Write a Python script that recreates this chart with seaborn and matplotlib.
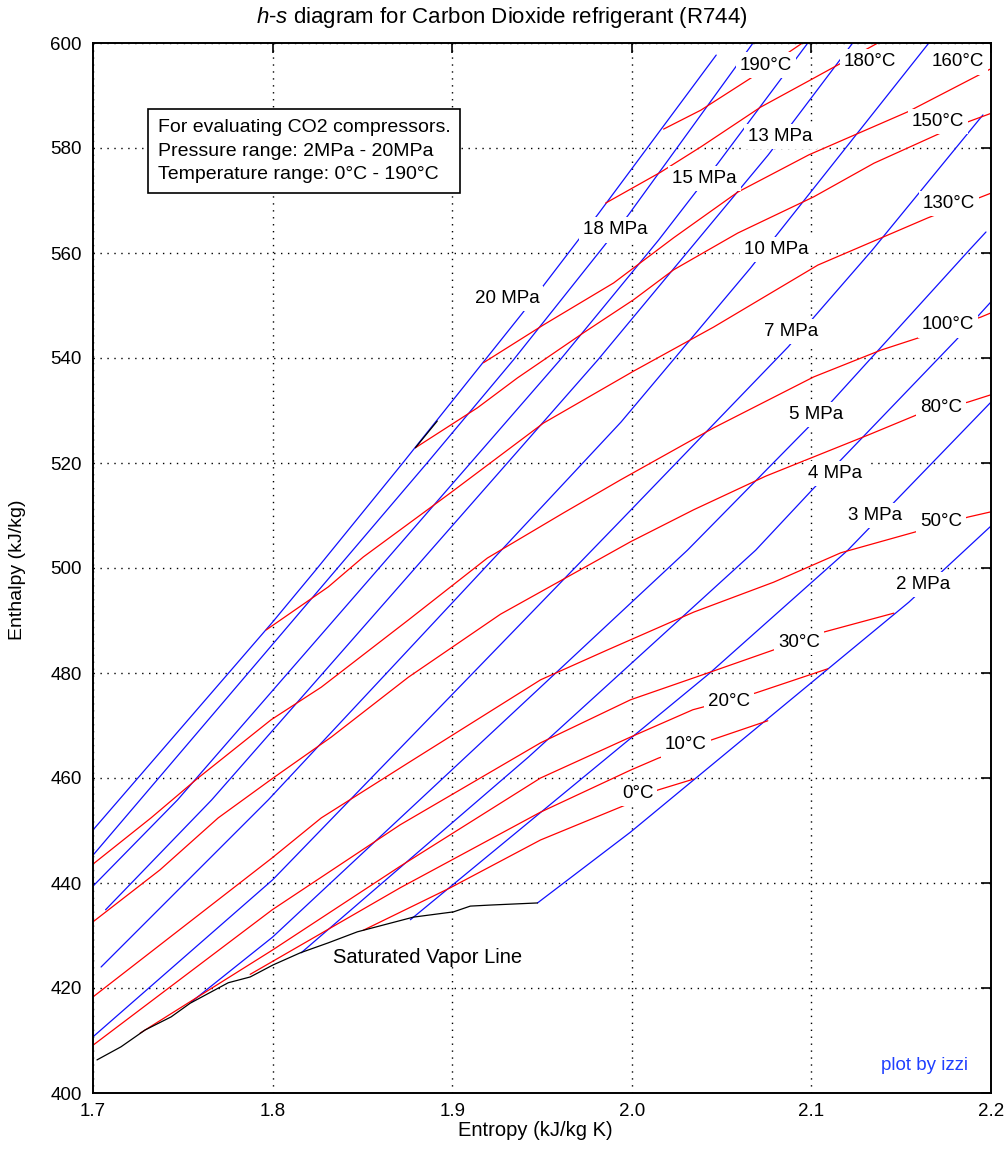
import matplotlib
matplotlib.use("Agg")
import matplotlib.pyplot as plt
import seaborn as sns

# ---------------- data (entropy s in kJ/kg K, enthalpy h in kJ/kg) ----------------
entropy_ticks = [1.7, 1.8, 1.9, 2.0, 2.1, 2.2]
entropy_tick_labels = ["1.7", "1.8", "1.9", "2.0", "2.1", "2.2"]
enthalpy_ticks = [400, 420, 440, 460, 480, 500, 520, 540, 560, 580, 600]

# saturated vapour line
sat_s = [1.7022, 1.7156, 1.729, 1.7435, 1.7541, 1.7753, 1.7875, 1.8003, 1.8154,
         1.831, 1.8472, 1.8784, 1.9007, 1.9101, 1.9213, 1.9475]
sat_h = [406.3, 408.8, 412.0, 414.5, 417.1, 421.0, 422.1, 424.4, 426.7,
         428.6, 430.7, 433.5, 434.5, 435.6, 435.8, 436.2]

# small black piece lying on the 20 MPa isobar
blk_s = [1.8795, 1.8917]
blk_h = [522.9, 528.0]

# isobars
p20_s = [1.700, 1.800, 1.824, 1.872, 1.939, 1.981, 2.047]
p20_h = [450.1, 489.7, 499.6, 519.8, 548.5, 567.3, 597.7]
p18_s = [1.700, 1.886, 1.934, 1.984, 1.998, 2.0675]
p18_h = [445.3, 520.0, 539.6, 561.1, 567.2, 600.0]
p15_s = [1.700, 1.747, 1.960, 2.015, 2.048, 2.098]
p15_h = [439.4, 455.8, 539.6, 562.5, 577.1, 600.0]
p13_s = [1.707, 1.766, 1.981, 2.076, 2.123]
p13_h = [434.9, 455.8, 539.6, 578.7, 600.0]
p10_s = [1.7045, 1.7975, 1.994, 2.066, 2.1654]
p10_h = [424.0, 455.8, 527.8, 557.1, 600.0]
p7_s = [1.700, 1.800, 1.994, 2.087, 2.134, 2.1955]
p7_h = [410.7, 440.6, 509.1, 542.1, 560.6, 586.3]
p5_s = [1.7546, 1.800, 2.031, 2.098, 2.188, 2.1972]
p5_h = [417.3, 429.7, 503.4, 526.7, 560.6, 564.0]
p4_s = [1.8159, 1.9425, 2.069, 2.1013, 2.1805, 2.2]
p4_h = [426.7, 464.0, 503.4, 515.2, 543.4, 550.7]
p3_s = [1.8767, 2.0428, 2.1203, 2.2]
p3_h = [433.0, 479.8, 503.4, 531.6]
p2_s = [1.9475, 1.9993, 2.1058, 2.1543, 2.2]
p2_h = [436.2, 449.7, 479.8, 493.5, 508.0]

# isotherms
t190_s = [2.0177, 2.0384, 2.0662, 2.095]
t190_h = [583.6, 587.2, 593.3, 600.0]
t180_s = [1.9854, 2.0161, 2.0384, 2.0718, 2.0997, 2.137]
t180_h = [569.5, 575.4, 580.2, 587.8, 593.0, 600.0]
t160_s = [1.9174, 1.9508, 1.9899, 2.0233, 2.059, 2.0986, 2.1537, 2.2]
t160_h = [539.1, 546.3, 554.3, 562.9, 571.6, 578.7, 586.9, 595.1]
t150_s = [1.8795, 1.914, 1.9363, 1.9731, 2.001, 2.0233, 2.059, 2.1013, 2.1348, 2.1794, 2.2]
t150_h = [522.9, 530.5, 536.2, 544.8, 551.1, 556.8, 563.8, 570.7, 577.1, 584.0, 586.6]
t130_s = [1.7964, 1.831, 1.8505, 1.899, 1.9508, 2.001, 2.0456, 2.1036, 2.1649, 2.2]
t130_h = [488.2, 496.4, 502.1, 514.3, 527.6, 537.5, 545.9, 557.7, 566.7, 571.4]
t100_s = [1.7, 1.7323, 1.7585, 1.7992, 1.8271, 1.8756, 1.9196, 1.962, 1.9938,
          2.0456, 2.1013, 2.1387, 2.1593, 2.1944, 2.2]
t100_h = [443.6, 452.4, 460.0, 471.1, 477.3, 490.1, 501.9, 510.5, 516.8,
          526.7, 536.4, 541.5, 543.8, 547.8, 548.6]
t80_s = [1.7, 1.7373, 1.7697, 1.8003, 1.8327, 1.8756, 1.9269, 1.9731, 1.9993,
         2.0345, 2.0746, 2.1314, 2.1582, 2.1872, 2.2]
t80_h = [432.6, 442.5, 452.4, 460.0, 467.8, 479.2, 491.2, 500.0, 505.0,
         511.1, 517.5, 525.3, 529.1, 531.6, 533.0]
t50_s = [1.7, 1.7998, 1.8271, 1.8756, 1.9492, 1.9865, 2.0345, 2.079, 2.1164, 2.1582, 2.1872, 2.2]
t50_h = [418.3, 444.8, 452.4, 462.9, 478.7, 484.4, 491.6, 497.3, 502.9, 506.9, 509.7, 510.7]
t30_s = [1.7, 1.7998, 1.8711, 1.9492, 1.9993, 2.0423, 2.079, 2.1069, 2.1459]
t30_h = [409.1, 434.9, 451.1, 466.7, 474.9, 480.0, 484.4, 487.8, 491.4]
t20_s = [1.7262, 1.7998, 1.8711, 1.9492, 1.9993, 2.034, 2.069, 2.1091]
t20_h = [411.4, 427.2, 443.2, 460.0, 467.8, 473.0, 476.2, 480.8]
t10_s = [1.7875, 1.8711, 1.9492, 1.9993, 2.0149, 2.0439, 2.0757]
t10_h = [422.6, 439.1, 453.5, 461.5, 463.8, 467.2, 470.9]
t0_s = [1.8505, 1.899, 1.9492, 1.9954, 2.0144, 2.0345]
t0_h = [431.0, 439.1, 448.2, 454.7, 457.7, 459.8]

isobars = [(p20_s, p20_h), (p18_s, p18_h), (p15_s, p15_h), (p13_s, p13_h), (p10_s, p10_h),
           (p7_s, p7_h), (p5_s, p5_h), (p4_s, p4_h), (p3_s, p3_h), (p2_s, p2_h)]
isotherms = [(t190_s, t190_h), (t180_s, t180_h), (t160_s, t160_h), (t150_s, t150_h),
             (t130_s, t130_h), (t100_s, t100_h), (t80_s, t80_h), (t50_s, t50_h),
             (t30_s, t30_h), (t20_s, t20_h), (t10_s, t10_h), (t0_s, t0_h)]

# in-line labels
p_labels = ["2 MPa", "3 MPa", "4 MPa", "5 MPa", "7 MPa", "10 MPa", "13 MPa", "15 MPa", "18 MPa", "20 MPa"]
p_label_s = [2.1624, 2.1356, 2.1133, 2.1027, 2.0888, 2.0804, 2.0827, 2.0403, 1.991, 1.9305]
p_label_h = [496.8, 510.0, 518.0, 529.2, 545.05, 560.6, 582.2, 574.2, 564.4, 551.3]

t_labels = ["0°C", "10°C", "20°C", "30°C", "50°C", "80°C", "100°C", "130°C", "150°C", "160°C", "180°C", "190°C"]
t_label_s = [2.0032, 2.030, 2.054, 2.093, 2.1721, 2.1721, 2.176, 2.1766, 2.1705, 2.1816, 2.1326, 2.0746]
t_label_h = [457.1, 466.3, 474.5, 485.9, 508.8, 530.5, 546.3, 569.5, 585.0, 596.4, 596.4, 595.8]

# ---------------- style ----------------
sns.set_theme(style="white")
plt.rcParams['font.family'] = ['Liberation Sans', 'DejaVu Sans']
plt.rcParams['mathtext.fontset'] = 'custom'
plt.rcParams['mathtext.it'] = 'Liberation Sans:italic'
plt.rcParams['mathtext.rm'] = 'Liberation Sans'

W, H = 1005, 1149
fig = plt.figure(figsize=(W / 100, H / 100), dpi=100)
fig.patch.set_facecolor('white')
ax = fig.add_axes([93 / W, 1 - 1093 / H, 898 / W, 1050 / H])
ax.set_facecolor('white')

BLUE = '#1010ff'
RED = '#ff0000'
LW = 0.9

for s, h in isobars:
    sns.lineplot(x=s, y=h, ax=ax, color=BLUE, linewidth=LW, sort=False, estimator=None, legend=False)
for s, h in isotherms:
    sns.lineplot(x=s, y=h, ax=ax, color=RED, linewidth=LW, sort=False, estimator=None, legend=False)
sns.lineplot(x=sat_s, y=sat_h, ax=ax, color='black', linewidth=LW, sort=False, estimator=None, legend=False)
sns.lineplot(x=blk_s, y=blk_h, ax=ax, color='black', linewidth=LW, sort=False, estimator=None, legend=False)

ax.set_xlim(1.7, 2.2)
ax.set_ylim(400, 600)
ax.set_xticks(entropy_ticks)
ax.set_xticklabels(entropy_tick_labels)
ax.set_yticks(enthalpy_ticks)
ax.set_xlabel('')
ax.set_ylabel('')
ax.set_axisbelow(True)
ax.grid(True, color='black', linestyle=(0, (1, 4)), linewidth=1.0)
ax.tick_params(direction='in', length=7, width=1.2, top=True, right=True,
               labelsize=13.5, colors='black')
ax.tick_params(axis='y', pad=8)
ax.tick_params(axis='x', pad=7)
for sp in ax.spines.values():
    sp.set_color('black')
    sp.set_linewidth(1.4)

lab_kw = dict(ha='center', va='center', fontsize=13.5, color='black', zorder=6,
              bbox=dict(boxstyle='square,pad=0.22', fc='white', ec='none'))
for txt, s, h in zip(p_labels, p_label_s, p_label_h):
    ax.text(s, h, txt, **lab_kw)
for txt, s, h in zip(t_labels, t_label_s, t_label_h):
    ax.text(s, h, txt, **lab_kw)

ax.text(1.8338, 425.9, "Saturated Vapor Line", ha='left', va='center', fontsize=14.5,
        color='black', zorder=6)
ax.text(2.1872, 405.3, "plot by izzi", ha='right', va='center', fontsize=13.5,
        color='#2040ff', zorder=6)
ax.text(1.7362, 579.4,
        "For evaluating CO2 compressors.\nPressure range: 2MPa - 20MPa\nTemperature range: 0°C - 190°C",
        ha='left', va='center', fontsize=14, color='black', linespacing=1.5, zorder=7,
        bbox=dict(boxstyle='square,pad=0.5', fc='white', ec='black', lw=1.2))

fig.text(502 / W, 1 - 18 / H,
         r"$\it{h}$-$\it{s}$ diagram for Carbon Dioxide refrigerant (R744)",
         ha='center', va='center', fontsize=16, color='black')
fig.text(535 / W, 1 - 1130 / H, "Entropy (kJ/kg K)", ha='center', va='center',
         fontsize=14.5, color='black')
fig.text(18 / W, 1 - 570 / H, "Enthalpy (kJ/kg)", ha='center', va='center',
         rotation=90, fontsize=14, color='black')

fig.savefig("out.png", dpi=100, facecolor='white')
